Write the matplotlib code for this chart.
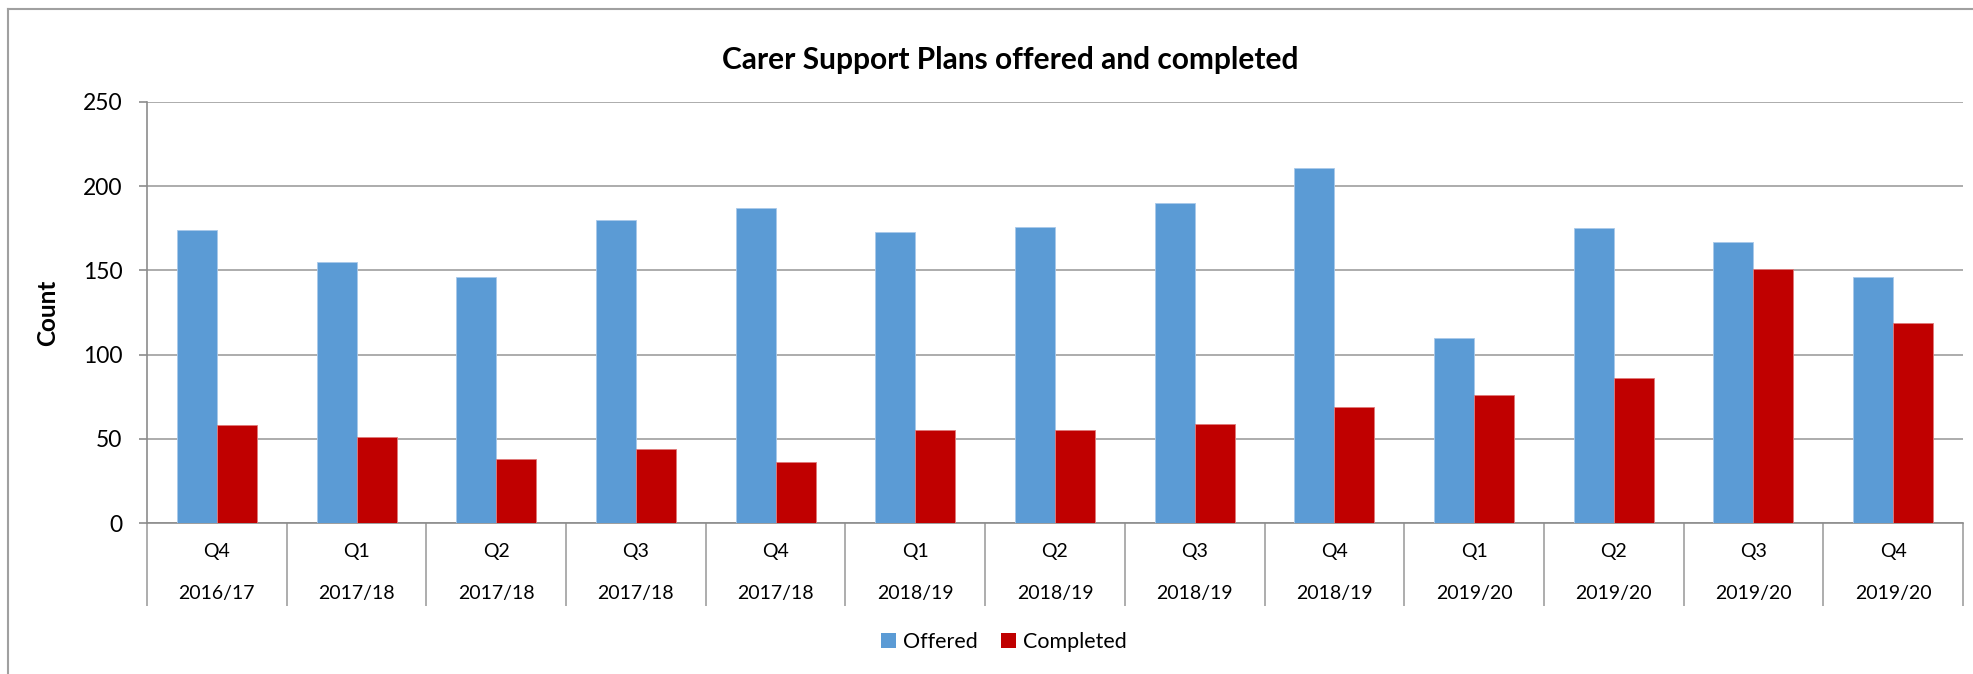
import matplotlib
matplotlib.use("Agg")
import matplotlib.pyplot as plt
from matplotlib.lines import Line2D
from matplotlib.patches import Patch
import numpy as np

quarters = ["Q4", "Q1", "Q2", "Q3", "Q4", "Q1", "Q2", "Q3", "Q4", "Q1", "Q2", "Q3", "Q4"]
years = ["2016/17", "2017/18", "2017/18", "2017/18", "2017/18", "2018/19", "2018/19",
         "2018/19", "2018/19", "2019/20", "2019/20", "2019/20", "2019/20"]
offered = [174, 155, 146, 180, 187, 173, 176, 190, 211, 110, 175, 167, 146]
completed = [58, 51, 38, 44, 36, 55, 55, 59, 69, 76, 86, 151, 119]
yticks = [0, 50, 100, 150, 200, 250]

plt.rcParams['font.family'] = ['Lato', 'DejaVu Sans']

W, H = 1973, 674
fig = plt.figure(figsize=(W / 100, H / 100), dpi=100)
ax = fig.add_axes([147 / W, 1 - 523 / H, (1963 - 147) / W, (523 - 102) / H])

n = len(quarters)
x = np.arange(n)
bw = 0.2865
c_off = "#5B9BD5"
c_comp = "#C00000"
ax.bar(x - bw / 2, offered, bw, color=c_off, edgecolor="#A9C9EA", linewidth=0.6, zorder=3, label="Offered")
ax.bar(x + bw / 2, completed, bw, color=c_comp, edgecolor="#E07A7A", linewidth=0.6, zorder=3, label="Completed")

ax.set_xlim(-0.5, n - 0.5)
ax.set_ylim(0, 250)
ax.set_yticks(yticks)
ax.tick_params(axis='y', length=5.8, width=1.2, color="#8C8C8C", pad=12, labelsize=16.5, labelcolor="#000000")
ax.yaxis.grid(True, color="#A6A6A6", linewidth=1.3, zorder=0)
ax.set_axisbelow(True)

# category separators as long minor ticks
ax.set_xticks(np.arange(-0.5, n, 1.0), minor=True)
ax.set_xticks([])
ax.tick_params(axis='x', which='minor', length=60, width=1.2, color="#A0A0A0")

for s in ["top", "right"]:
    ax.spines[s].set_visible(False)
ax.spines["left"].set_color("#8C8C8C")
ax.spines["left"].set_linewidth(1.2)
ax.spines["bottom"].set_color("#8C8C8C")
ax.spines["bottom"].set_linewidth(1.2)

trans = ax.get_xaxis_transform()
axh = 523 - 102
for i in range(n):
    ax.text(x[i], -28 / axh, quarters[i], transform=trans, ha="center", va="center", fontsize=14)
    ax.text(x[i], -70 / axh, years[i], transform=trans, ha="center", va="center", fontsize=14)

ax.set_ylabel("Count", fontsize=17.5, fontweight="bold")
ax.yaxis.set_label_coords(-88 / (1963 - 147), 0.5)

fig.text(1010 / W, 1 - 60 / H, "Carer Support Plans offered and completed", ha="center", va="center",
         fontsize=21.5, fontweight="bold")

handles = [Patch(facecolor=c_off, edgecolor="none"), Patch(facecolor=c_comp, edgecolor="none")]
fig.legend(handles, ["Offered", "Completed"], loc="center", bbox_to_anchor=(1004 / W, 1 - 642 / H),
           ncol=2, frameon=False, fontsize=15.5, handlelength=0.7, handleheight=0.7,
           handletextpad=0.3, columnspacing=1.1)

# outer chart frame
fig.add_artist(Line2D([8 / W, 1], [1 - 9 / H, 1 - 9 / H], color="#A0A0A0", linewidth=1.5))
fig.add_artist(Line2D([8 / W, 8 / W], [1 - 9 / H, 0], color="#A0A0A0", linewidth=1.5))

fig.savefig("out.png", dpi=100, facecolor="white")
